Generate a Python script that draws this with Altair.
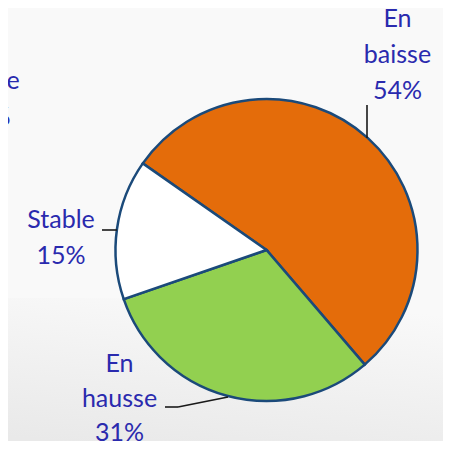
import math
import altair as alt
import pandas as pd

# ---- data ----
categories = ["En baisse", "En hausse", "Stable"]
label_words = [["En", "baisse"], ["En", "hausse"], ["Stable"]]
values = [54, 31, 15]
colors = ["#E46C0A", "#92D050", "#FFFFFF"]
ghost_words = ["En", "baisse", "54%"]  # fragment of a neighbouring chart's label

W, H = 435, 433
CX, CY, R = 258.5, 242, 151
START = math.radians(-55)
TXT = "#2A2AAE"
FONT = "Lato"
FS = 25

df = pd.DataFrame({
    "category": categories,
    "value": values,
    "order": list(range(len(categories))),
    "label": ["\n".join(w + [f"{v}%"]) for w, v in zip(label_words, values)],
})

bg_df = pd.DataFrame({"k": [0]})

background = alt.Chart(bg_df).mark_rect(
    fill=alt.Gradient(
        gradient="linear",
        stops=[alt.GradientStop(color="#F9F9F9", offset=0),
               alt.GradientStop(color="#E9E9E9", offset=1)],
        x1=0.6, y1=0, x2=0.3, y2=1,
    )
).encode(x=alt.value(-8), x2=alt.value(W + 8), y=alt.value(290), y2=alt.value(H + 8))

pie = alt.Chart(df).mark_arc(
    outerRadius=R, stroke="#1B4A7A", strokeWidth=2.5
).encode(
    theta=alt.Theta("value:Q", stack=True,
                    scale=alt.Scale(range=[START, START + 2 * math.pi])),
    order=alt.Order("order:Q"),
    color=alt.Color("category:N",
                    scale=alt.Scale(domain=categories, range=colors),
                    legend=None),
    x=alt.value(CX),
    y=alt.value(CY),
)

lead = dict(color="#1A1A1A", strokeWidth=1.6)
rules = [
    alt.Chart(bg_df).mark_rule(**lead).encode(x=alt.value(359), y=alt.value(97), y2=alt.value(130)),
    alt.Chart(bg_df).mark_rule(**lead).encode(x=alt.value(94), x2=alt.value(109), y=alt.value(222)),
    alt.Chart(bg_df).mark_rule(**lead).encode(x=alt.value(157), x2=alt.value(170), y=alt.value(399)),
    alt.Chart(bg_df).mark_rule(**lead).encode(x=alt.value(170), x2=alt.value(220), y=alt.value(399), y2=alt.value(389)),
]

label_pos = {"En baisse": (389.5, 19, 36), "En hausse": (111.5, 364, 34.5), "Stable": (53, 220, 36)}
texts = []
for cat in categories:
    px, py, lh = label_pos[cat]
    texts.append(
        alt.Chart(df).transform_filter(alt.datum.category == cat).mark_text(
            font=FONT, fontSize=FS, color=TXT, align="center",
            baseline="alphabetic", lineBreak="\n", lineHeight=lh,
        ).encode(text="label:N", x=alt.value(px), y=alt.value(py))
    )

ghost_df = pd.DataFrame({"label": ["\n".join(ghost_words)]})
ghost = alt.Chart(ghost_df).mark_text(
    font=FONT, fontSize=FS, color=TXT, align="center",
    baseline="alphabetic", lineBreak="\n", lineHeight=36,
).encode(text="label:N", x=alt.value(-22), y=alt.value(45))

chart = alt.layer(background, pie, *rules, *texts, ghost).properties(
    width=W, height=H, background="#F9F9F9",
    padding=0, autosize=alt.AutoSizeParams(type="none"),
).configure_view(stroke=None)

chart.save("out.html", embed_options={"renderer": "svg", "actions": False})
